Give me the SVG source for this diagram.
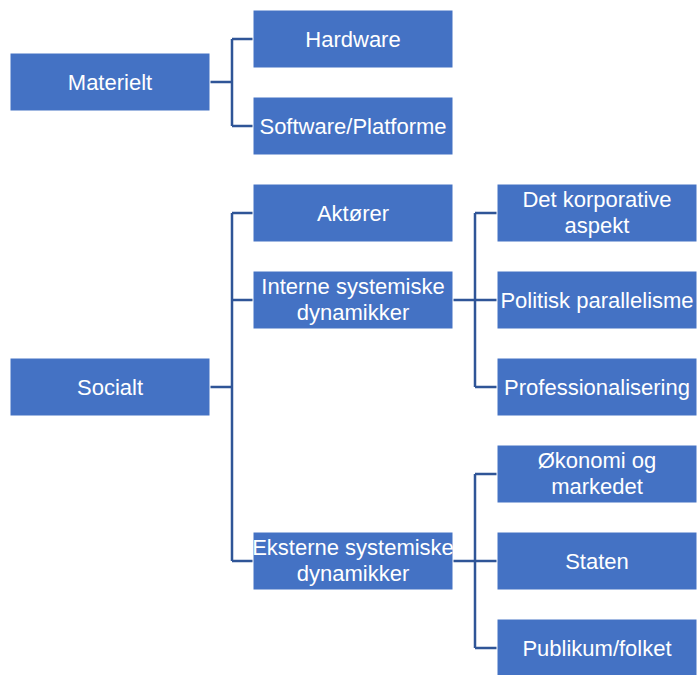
<svg xmlns="http://www.w3.org/2000/svg" width="698" height="675" viewBox="0 0 698 675">
<style>
.box{fill:#4472C4;stroke:#ffffff;stroke-width:1}
.t{font-family:"Liberation Sans",Arial,sans-serif;font-size:22px;fill:#ffffff;text-anchor:middle}
.c{fill:none;stroke:#2F5597;stroke-width:2.5}
</style>
<rect width="698" height="675" fill="#ffffff"/>
<g id="connectors">
<path class="c" d="M210 82H232M232 39V126M232 39H253M232 126H253"/>
<path class="c" d="M210 387H232M232 213V561M232 213H253M232 300H253M232 561H253"/>
<path class="c" d="M453 300H475M475 213V387M475 213H497M475 300H497M475 387H497"/>
<path class="c" d="M453 561H475M475 474V648M475 474H497M475 561H497M475 648H497"/>
</g>
<g id="materielt"><rect class="box" x="10" y="53" width="200" height="58"/><text class="t" x="110" y="89.5">Materielt</text></g>
<g id="hardware"><rect class="box" x="253" y="10" width="200" height="58"/><text class="t" x="353" y="46.5">Hardware</text></g>
<g id="software"><rect class="box" x="253" y="97" width="200" height="58"/><text class="t" x="353" y="133.5">Software/Platforme</text></g>
<g id="aktorer"><rect class="box" x="253" y="184" width="200" height="58"/><text class="t" x="353" y="220.5">Aktører</text></g>
<g id="interne"><rect class="box" x="253" y="271" width="200" height="58"/><text class="t" x="353" y="294">Interne systemiske</text><text class="t" x="353" y="320">dynamikker</text></g>
<g id="socialt"><rect class="box" x="10" y="358" width="200" height="58"/><text class="t" x="110" y="394.5">Socialt</text></g>
<g id="eksterne"><rect class="box" x="253" y="532" width="200" height="58"/><text class="t" x="353" y="555">Eksterne systemiske</text><text class="t" x="353" y="581">dynamikker</text></g>
<g id="korporative"><rect class="box" x="497" y="184" width="200" height="58"/><text class="t" x="597" y="207">Det korporative</text><text class="t" x="597" y="233">aspekt</text></g>
<g id="politisk"><rect class="box" x="497" y="271" width="200" height="58"/><text class="t" x="597" y="307.5">Politisk parallelisme</text></g>
<g id="professionalisering"><rect class="box" x="497" y="358" width="200" height="58"/><text class="t" x="597" y="394.5">Professionalisering</text></g>
<g id="okonomi"><rect class="box" x="497" y="445" width="200" height="58"/><text class="t" x="597" y="468">Økonomi og</text><text class="t" x="597" y="494">markedet</text></g>
<g id="staten"><rect class="box" x="497" y="532" width="200" height="58"/><text class="t" x="597" y="568.5">Staten</text></g>
<g id="publikum"><rect class="box" x="497" y="619" width="200" height="58"/><text class="t" x="597" y="655.5">Publikum/folket</text></g>
</svg>
